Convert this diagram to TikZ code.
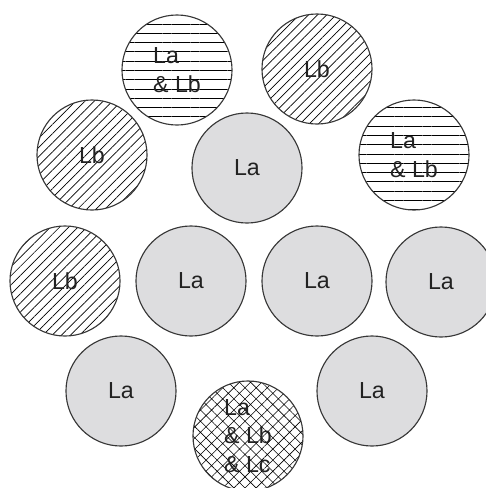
\documentclass[tikz,border=0pt]{standalone}
\usepackage{fontspec}
\setmainfont{Liberation Sans}
\usetikzlibrary{patterns.meta}
\definecolor{wiregray}{RGB}{221,221,223}
\definecolor{edge}{RGB}{55,55,55}
\definecolor{ink}{RGB}{34,34,34}

\begin{document}
\begin{tikzpicture}[x=0.025cm, y=-0.025cm,
  wire/.style={circle, draw=edge, line width=0.8pt, minimum size=2.75cm, inner sep=0pt,
    text=ink, font=\fontsize{16.5}{20.5}\selectfont, align=left},
  plain/.style={wire, fill=wiregray},
  striped/.style={wire, pattern={Lines[angle=0, distance=6.6pt, line width=0.5pt]}},
  hatched/.style={wire, pattern={Lines[angle=45, distance=4.6pt, line width=0.5pt]}},
  crossed/.style={wire, pattern={Hatch[angle=45, distance=5.6pt, line width=0.4pt]}}]
  \clip (0,0) rectangle (486,488);
  % top row
  \node[striped] (ab1) at (177,70) {La\\\& Lb};
  \node[hatched] (b1) at (317,69) {Lb};
  % second row
  \node[hatched] (b2) at (92,155) {Lb};
  \node[plain] (a1) at (247,168) {La};
  \node[striped] (ab2) at (414,155) {La\\\& Lb};
  % third row
  \node[hatched] (b3) at (65,281) {Lb};
  \node[plain] (a2) at (191,281) {La};
  \node[plain] (a3) at (317,281) {La};
  \node[plain] (a4) at (441,282) {La};
  % bottom row
  \node[plain] (a5) at (121,391) {La};
  \node[crossed] (abc) at (248,436) {La\\\& Lb\\\& Lc};
  \node[plain] (a6) at (372,391) {La};
\end{tikzpicture}
\end{document}
